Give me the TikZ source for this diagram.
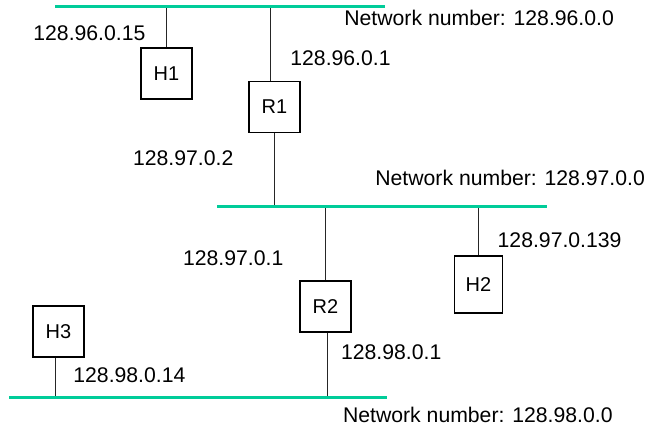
\documentclass[tikz,border=0pt]{standalone}
\usepackage{fontspec}
\setmainfont{Liberation Sans}
\usetikzlibrary{positioning}
\definecolor{netgreen}{RGB}{0,204,153}

\begin{document}
\begin{tikzpicture}[x=0.5pt,y=-0.5pt,
  dev/.style={rectangle,draw,line width=0.7pt,minimum width=25.5pt,minimum height=25.5pt,inner sep=0pt,font=\fontsize{10}{12}\selectfont},
  bus/.style={netgreen,line width=1.5pt},
  lnk/.style={line width=0.7pt,black!85},
  lbl/.style={anchor=west,inner sep=0pt,font=\fontsize{10.6}{12}\selectfont}]
  \useasboundingbox (0,0) rectangle (647,427);
  % the three networks
  \coordinate (n96a) at (55,7);    \coordinate (n96b) at (385,7);
  \coordinate (n97a) at (217,207); \coordinate (n97b) at (547,207);
  \coordinate (n98a) at (9,397);   \coordinate (n98b) at (387,397);
  % hosts and routers
  \foreach \n/\x/\y in {H1/166.5/73.5,R1/274.5/107,R2/325.5/306.5,H3/58.5/331.5}
    \node[dev] (\n) at (\x,\y) {\n};
  \node[dev,minimum width=24pt,minimum height=28.5pt] (H2) at (478.5,284.5) {H2};
  \draw[lnk] (H1.north) -- (H1.north |- n96a);
  \draw[lnk] ([xshift=-2pt]R1.north) -- ([xshift=-2pt]R1.north |- n96a);
  \draw[lnk] (R1.south) -- (R1.south |- n97a);
  \draw[lnk] (R2.north) -- (R2.north |- n97a);
  \draw[lnk] (H2.north) -- (H2.north |- n97a);
  \draw[lnk] ([xshift=1pt]R2.south) -- ([xshift=1pt]R2.south |- n98a);
  \draw[lnk] ([xshift=-1.5pt]H3.south) -- ([xshift=-1.5pt]H3.south |- n98a);
  \draw[bus] (n96a) -- (n96b);
  \draw[bus] (n97a) -- (n97b);
  \draw[bus] (n98a) -- (n98b);
  % addresses
  \node[lbl] (aH1) at (33,33.3) {128.96.0.15};
  \node[lbl] (aR1a) at (290,58.3) {128.96.0.1};
  \node[lbl] (aR1b) at (132.7,158) {128.97.0.2};
  \node[lbl] (aR2a) at (182.7,258.3) {128.97.0.1};
  \node[lbl] (aH2) at (497.3,240.7) {128.97.0.139};
  \node[lbl] (aR2b) at (340.7,351.7) {128.98.0.1};
  \node[lbl] (aH3) at (73,375) {128.98.0.14};
  % network numbers
  \node[lbl] (net96) at (344,18.3) {Network number: 128.96.0.0};
  \node[lbl] (net97) at (375,178.3) {Network number: 128.97.0.0};
  \node[lbl] (net98) at (342.7,414.5) {Network number: 128.98.0.0};
\end{tikzpicture}
\end{document}
